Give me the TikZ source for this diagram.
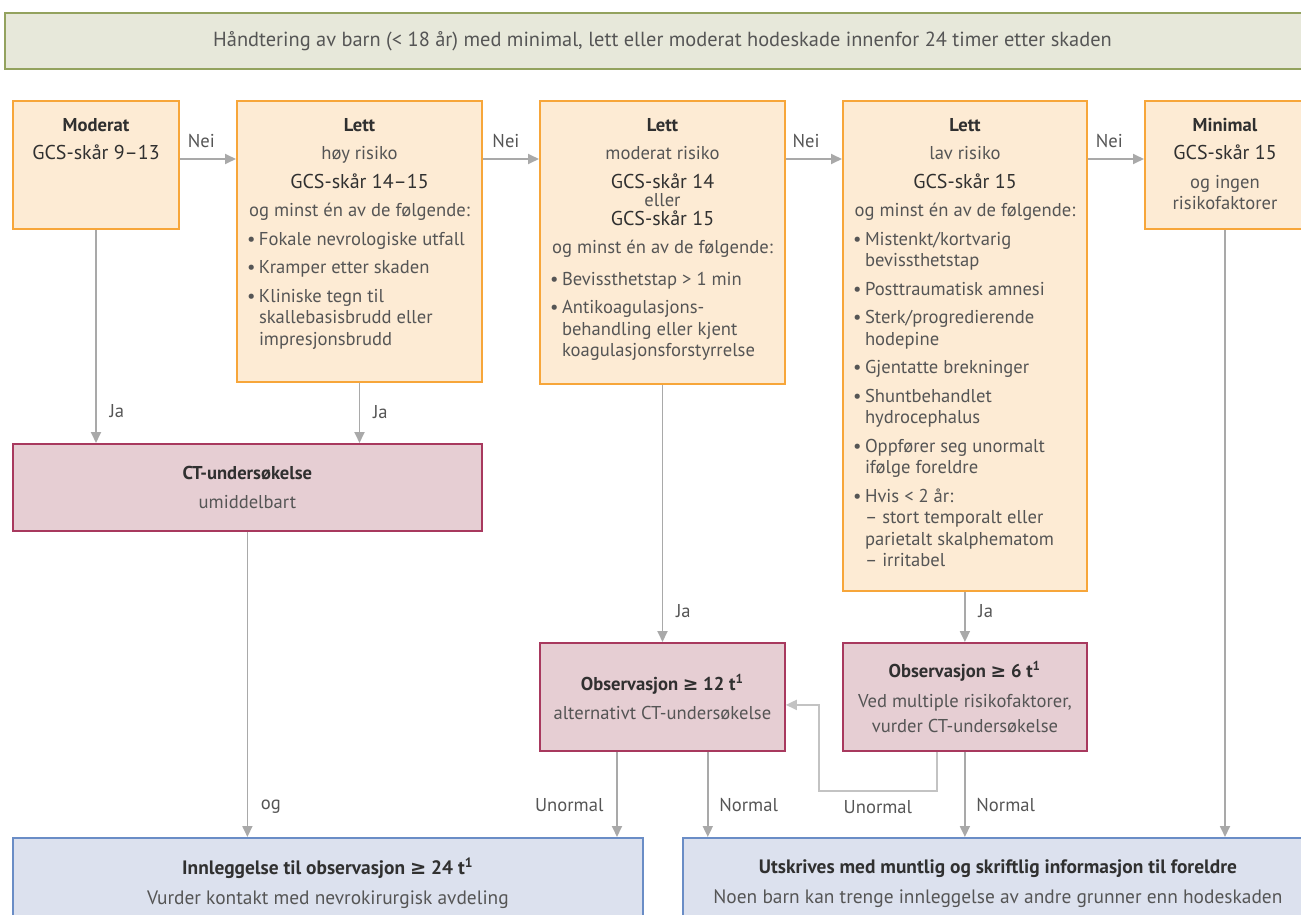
\documentclass[tikz,border=0pt]{standalone}
\usepackage{fontspec}
\setmainfont{PT Sans}
\newfontfamily\symfont{DejaVu Sans}
\usetikzlibrary{arrows.meta,calc}

\definecolor{hdfill}{HTML}{E7E8DA}
\definecolor{hdline}{HTML}{93A25E}
\definecolor{orfill}{HTML}{FDEBD4}
\definecolor{orline}{HTML}{F7A63A}
\definecolor{rdfill}{HTML}{E6CED3}
\definecolor{rdline}{HTML}{A8395E}
\definecolor{blfill}{HTML}{DCE1EE}
\definecolor{blline}{HTML}{6A8DC6}
\definecolor{arrgray}{HTML}{A9A9A9}
\definecolor{txt}{HTML}{555555}
\definecolor{txtdark}{HTML}{303030}

\newlength{\unitpx}
\setlength{\unitpx}{0.5pt}
\newcommand{\gcs}{\fontsize{10}{10.75}\selectfont\color{txtdark}}
\newcommand{\hd}[1]{{\bfseries\color{txtdark}#1}}
\newcommand{\gesym}{{\symfont ≥}}
\newcommand{\bx}[3]{\begin{minipage}[t][#2\unitpx][t]{\dimexpr#1\unitpx-4pt\relax}%
  \setlength{\parskip}{3.5pt}\hyphenpenalty=10000\centering\vspace*{8.5pt}#3\end{minipage}}
\newcommand{\bul}[1]{\par\raggedright\leftskip=3pt\hangindent=6pt\hangafter=1\noindent
  \makebox[6pt][l]{\textbullet}#1\par}

\begin{document}
\begin{tikzpicture}[x=0.5pt, y=-0.5pt,
  font=\fontsize{9.3}{10.75}\selectfont,
  every node/.style={text=txt},
  banner/.style={draw=hdline, fill=hdfill, line width=1pt, anchor=north west,
    minimum width=657.5pt, minimum height=28pt, font=\fontsize{10.2}{12}\selectfont},
  obox/.style={draw=orline, fill=orfill, line width=1pt, anchor=north west,
    inner xsep=2pt, inner ysep=0pt},
  rbox/.style={draw=rdline, fill=rdfill, line width=0.9pt, anchor=north west,
    align=center},
  bbox/.style={draw=blline, fill=blfill, line width=0.9pt, anchor=north west,
    align=center, minimum width=315pt, minimum height=45.5pt,
    font=\fontsize{9.7}{11}\selectfont},
  arr/.style={draw=arrgray, line width=0.9pt, -{Triangle[length=5.5pt,width=5pt]}},
  lbl/.style={text=txt}]
\clip (0,0) rectangle (1301,915);

%title
  \node[banner] (title) at (4,12) {Håndtering av barn (< 18 år) med minimal, lett eller moderat hodeskade innenfor 24 timer etter skaden};

%first row
  \node[obox] (mod) at (12,100) {\bx{166}{128}{\hd{Moderat}\par{\gcs GCS-skår 9–13}}};
  \node[obox] (lh) at (236,100) {\bx{245}{281}{\hd{Lett}\par høy risiko\par{\gcs GCS-skår 14–15}\par
    og minst én av de følgende:
    \bul{Fokale nevrologiske utfall}
    \bul{Kramper etter skaden}
    \bul{Kliniske tegn til\newline skallebasisbrudd eller\newline impresjonsbrudd}}};
  \node[obox] (lm) at (539,100) {\bx{245}{283}{\hd{Lett}\par moderat risiko\par
    {\gcs GCS-skår 14}\\[-1.5pt] eller\\[-1.5pt] {\gcs GCS-skår 15}\par
    og minst én av de følgende:\par\vspace{1.5pt}
    \bul{Bevissthetstap > 1 min}
    \bul{Antikoagulasjons-\newline behandling eller kjent\newline koagulasjonsforstyrrelse}}};
  \node[obox] (ll) at (842,100) {\bx{244}{490}{\hd{Lett}\par lav risiko\par{\gcs GCS-skår 15}\par
    og minst én av de følgende:
    \bul{Mistenkt/kortvarig\newline bevissthetstap}
    \bul{Posttraumatisk amnesi}
    \bul{Sterk/progredierende\newline hodepine}
    \bul{Gjentatte brekninger}
    \bul{Shuntbehandlet\newline hydrocephalus}
    \bul{Oppfører seg unormalt\newline ifølge foreldre}
    \bul{Hvis < 2 år:\newline – stort temporalt eller\newline parietalt skalphematom\newline – irritabel}}};
  \node[obox] (min) at (1144,100) {\bx{160}{128}{\hd{Minimal}\par{\gcs GCS-skår 15}\par
    og ingen\\ risikofaktorer}};

%second row
  \node[rbox, minimum width=234.5pt, minimum height=43.5pt] (ct) at (12,443)
    {\hd{CT-undersøkelse}\\[3.5pt] umiddelbart};
  \node[rbox, minimum width=122.5pt, minimum height=54pt] (o12) at (539,642)
    {\hd{Observasjon \gesym{} 12 t\textsuperscript{1}}\\[3.5pt] alternativt CT-undersøkelse};
  \node[rbox, minimum width=122pt, minimum height=54pt] (o6) at (842,642)
    {\hd{Observasjon \gesym{} 6 t\textsuperscript{1}}\\[4pt] Ved multiple risikofaktorer,\\[2pt] vurder CT-undersøkelse};

%bottom row
  \node[bbox] (inn) at (12,837)
    {\hd{Innleggelse til observasjon \gesym{} 24 t\textsuperscript{1}}\\[4pt] Vurder kontakt med nevrokirurgisk avdeling};
  \node[bbox] (utsk) at (682,837)
    {\hd{Utskrives med muntlig og skriftlig informasjon til foreldre}\\[4pt] Noen barn kan trenge innleggelse av andre grunner enn hodeskaden};

%nei arrows
  \draw[arr] ([yshift=-29.5pt]mod.north east) -- node[lbl, above=2pt, pos=0.38] {Nei} ([yshift=-29.5pt]lh.north west);
  \draw[arr] ([yshift=-29.5pt]lh.north east) -- node[lbl, above=2pt, pos=0.41] {Nei} ([yshift=-29.5pt]lm.north west);
  \draw[arr] ([yshift=-29.5pt]lm.north east) -- node[lbl, above=2pt, pos=0.36] {Nei} ([yshift=-29.5pt]ll.north west);
  \draw[arr] ([yshift=-29.5pt]ll.north east) -- node[lbl, above=2pt, pos=0.38] {Nei} ([yshift=-29.5pt]min.north west);

%ja arrows
  \draw[arr] (mod.south) -- node[lbl, right=3pt, pos=0.85] {Ja} (mod.south |- ct.north);
  \draw[arr] (lh.south) -- node[lbl, right=3pt, pos=0.48] {Ja} (lh.south |- ct.north);
  \draw[arr] (lm.south) -- node[lbl, right=3pt, pos=0.88] {Ja} (lm.south |- o12.north);
  \draw[arr] (o6.north |- ll.south) -- node[lbl, right=3pt, pos=0.38] {Ja} (o6.north);

%outcome arrows
  \coordinate (o12u) at ($(o12.south west)+(78,0)$);
  \coordinate (o12n) at ($(o12.south east)+(-78,0)$);
  \coordinate (o6u) at ($(o6.south west)+(95,0)$);
  \draw[arr] (ct.south) -- node[lbl, right=3pt, pos=0.9] {og} (ct.south |- inn.north);
  \draw[arr] (o12u) -- node[lbl, left=3pt, pos=0.63] {Unormal} (o12u |- inn.north);
  \draw[arr] (o12n) -- node[lbl, right=2pt, pos=0.63] {Normal} (o12n |- utsk.north);
  \draw[arr] (o6.south) -- node[lbl, right=2pt, pos=0.63] {Normal} (o6.south |- utsk.north);
  \draw[arr] (min.south) -- (min.south |- utsk.north);
  \draw[arr, draw=arrgray!70] (o6u) -- ++(0,39) -| node[lbl, below=1pt, pos=0.25] {Unormal}
    ($(o12.east)+(33,8)$) -- ($(o12.east)+(0,8)$);
\end{tikzpicture}
\end{document}
